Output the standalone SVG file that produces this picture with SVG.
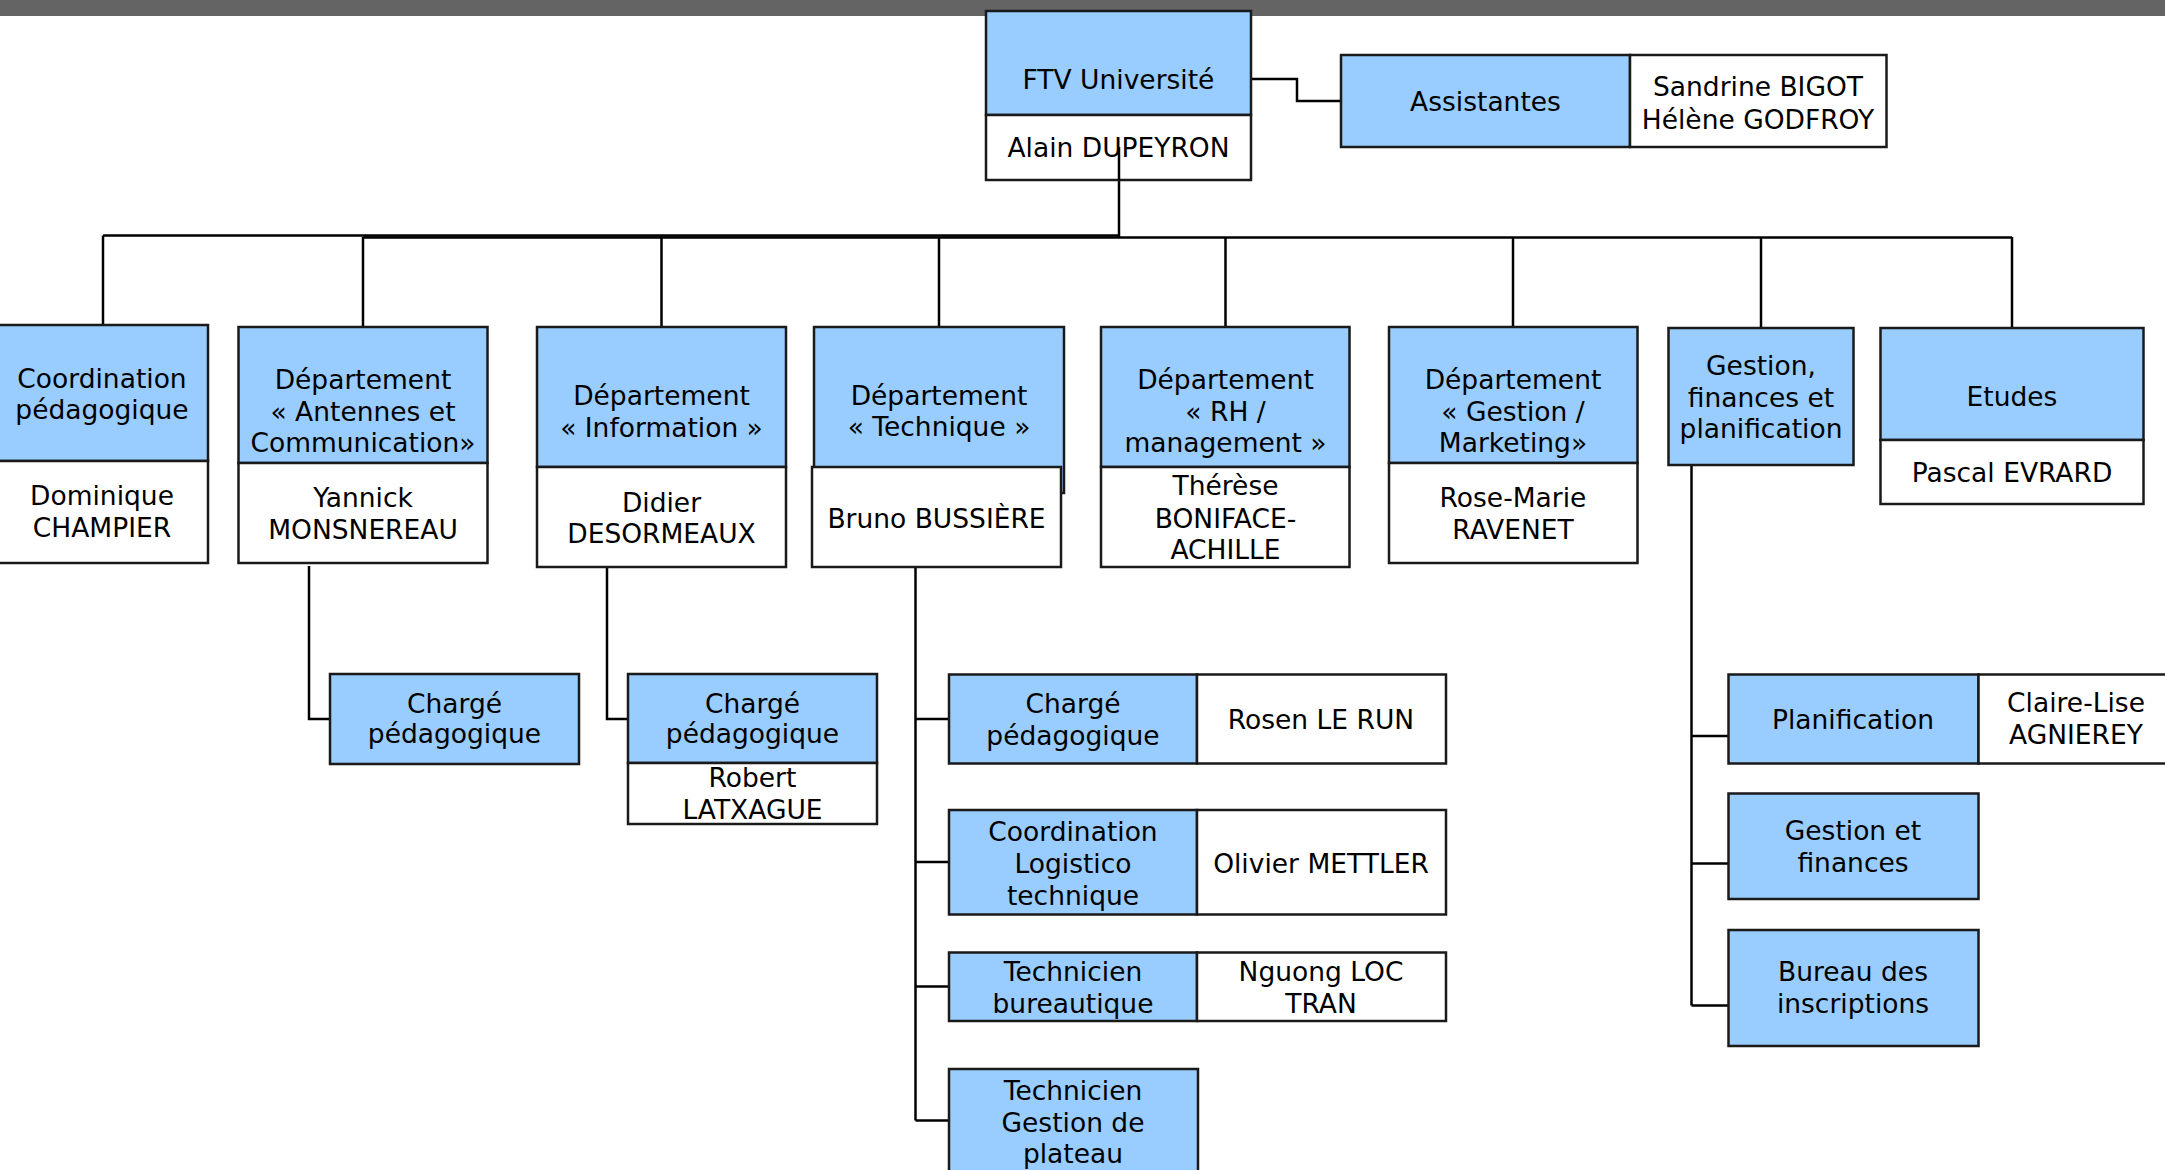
<svg xmlns="http://www.w3.org/2000/svg" width="2165" height="1170" viewBox="0 0 2165 1170">
<style>
.b{fill:#99CCFF;stroke:#1a1a1a;stroke-width:2.5}
.w{fill:#ffffff;stroke:#1a1a1a;stroke-width:2.5}
.c{fill:none;stroke:#000;stroke-width:2.5}
text{font-family:"DejaVu Sans",Verdana,sans-serif;font-size:26.5px;fill:#000;text-anchor:middle}
</style>
<rect x="0" y="0" width="2165" height="1170" fill="#ffffff"/>
<rect x="0" y="0" width="2165" height="16" fill="#646464"/>
<g id="connectors">
<path class="c" d="M1251 79 H1297 V101 H1341"/>
<path class="c" d="M1119 147 V237"/>
<path class="c" d="M103 235.5 H1119"/>
<path class="c" d="M363 237.5 H2012"/>
<path class="c" d="M103 235.5 V325"/>
<path class="c" d="M363 237 V327"/>
<path class="c" d="M661.5 237 V327"/>
<path class="c" d="M939 237 V327"/>
<path class="c" d="M1225.5 237 V327"/>
<path class="c" d="M1513 237 V327"/>
<path class="c" d="M1761 237 V328"/>
<path class="c" d="M2012 237 V328"/>
<path class="c" d="M309 566 V719 H330"/>
<path class="c" d="M607 567 V719 H628"/>
<path class="c" d="M915.5 567 V1120.5"/>
<path class="c" d="M915.5 719 H949"/>
<path class="c" d="M915.5 862 H949"/>
<path class="c" d="M915.5 986.5 H949"/>
<path class="c" d="M915.5 1120.5 H949"/>
<path class="c" d="M1691.5 465 V1005.5"/>
<path class="c" d="M1691.5 736 H1728.5"/>
<path class="c" d="M1691.5 863.5 H1728.5"/>
<path class="c" d="M1691.5 1005.5 H1728.5"/>
</g>
<g id="ftv">
<rect class="b" x="986" y="11" width="265" height="104"/>
<rect class="w" x="986" y="115" width="265" height="65"/>
<text x="1118.5" y="89">FTV Université</text>
<text x="1118.5" y="157">Alain DUPEYRON</text>
</g>
<path class="c" d="M1119 147 V180"/>
<g id="assistantes">
<rect class="b" x="1341" y="55" width="289" height="92"/>
<rect class="w" x="1630" y="55" width="256.5" height="92"/>
<text x="1485.5" y="111">Assistantes</text>
<text x="1758" y="96">Sandrine BIGOT</text>
<text x="1758" y="129">Hélène GODFROY</text>
</g>
<g id="coord-peda">
<rect class="b" x="-4" y="325" width="212" height="136"/>
<rect class="w" x="-4" y="461" width="212" height="102"/>
<text x="102" y="388">Coordination</text>
<text x="102" y="419">pédagogique</text>
<text x="102" y="505">Dominique</text>
<text x="102" y="537">CHAMPIER</text>
</g>
<g id="dept-antennes">
<rect class="b" x="238.5" y="327" width="249" height="136"/>
<rect class="w" x="238.5" y="463" width="249" height="100"/>
<text x="363" y="389">Département</text>
<text x="363" y="421">« Antennes et</text>
<text x="363" y="452">Communication»</text>
<text x="363" y="507">Yannick</text>
<text x="363" y="539">MONSNEREAU</text>
</g>
<g id="dept-information">
<rect class="b" x="537" y="327" width="249" height="140"/>
<rect class="w" x="537" y="467" width="249" height="100"/>
<text x="661.5" y="405">Département</text>
<text x="661.5" y="437">« Information »</text>
<text x="661.5" y="512">Didier</text>
<text x="661.5" y="543">DESORMEAUX</text>
</g>
<g id="dept-technique">
<rect class="b" x="814" y="327" width="250" height="166"/>
<rect class="w" x="812" y="467" width="249" height="100"/>
<text x="939" y="405">Département</text>
<text x="939" y="436">« Technique »</text>
<text x="936.5" y="528">Bruno BUSSIÈRE</text>
</g>
<g id="dept-rh">
<rect class="b" x="1101" y="327" width="248.5" height="140"/>
<rect class="w" x="1101" y="467" width="248.5" height="100"/>
<text x="1225.5" y="389">Département</text>
<text x="1225.5" y="421">« RH /</text>
<text x="1225.5" y="452">management »</text>
<text x="1225.5" y="495">Thérèse</text>
<text x="1225.5" y="528">BONIFACE-</text>
<text x="1225.5" y="559">ACHILLE</text>
</g>
<g id="dept-gestion-marketing">
<rect class="b" x="1389" y="327" width="248.5" height="136"/>
<rect class="w" x="1389" y="463" width="248.5" height="100"/>
<text x="1513" y="389">Département</text>
<text x="1513" y="421">« Gestion /</text>
<text x="1513" y="452">Marketing»</text>
<text x="1513" y="507">Rose-Marie</text>
<text x="1513" y="539">RAVENET</text>
</g>
<g id="gestion-finances-planif">
<rect class="b" x="1668.5" y="328" width="185" height="137"/>
<text x="1761" y="375">Gestion,</text>
<text x="1761" y="407">finances et</text>
<text x="1761" y="438">planification</text>
</g>
<g id="etudes">
<rect class="b" x="1880.5" y="328" width="263" height="112"/>
<rect class="w" x="1880.5" y="440" width="263" height="64"/>
<text x="2012" y="406">Etudes</text>
<text x="2012" y="482">Pascal EVRARD</text>
</g>
<g id="charge-antennes">
<rect class="b" x="330" y="674" width="249" height="90"/>
<text x="454.5" y="713">Chargé</text>
<text x="454.5" y="743">pédagogique</text>
</g>
<g id="charge-information">
<rect class="b" x="628" y="674" width="249" height="89"/>
<rect class="w" x="628" y="763" width="249" height="61"/>
<text x="752.5" y="713">Chargé</text>
<text x="752.5" y="743">pédagogique</text>
<text x="752.5" y="787">Robert</text>
<text x="752.5" y="819">LATXAGUE</text>
</g>
<g id="charge-technique">
<rect class="b" x="949" y="674.5" width="248" height="89"/>
<rect class="w" x="1197" y="674.5" width="249" height="89"/>
<text x="1073" y="713">Chargé</text>
<text x="1073" y="745">pédagogique</text>
<text x="1321" y="729">Rosen LE RUN</text>
</g>
<g id="coord-logistico">
<rect class="b" x="949" y="810" width="248" height="104.5"/>
<rect class="w" x="1197" y="810" width="249" height="104.5"/>
<text x="1073" y="841">Coordination</text>
<text x="1073" y="873">Logistico</text>
<text x="1073" y="905">technique</text>
<text x="1321" y="873">Olivier METTLER</text>
</g>
<g id="tech-bureautique">
<rect class="b" x="949" y="952.5" width="248" height="68.5"/>
<rect class="w" x="1197" y="952.5" width="249" height="68.5"/>
<text x="1073" y="981">Technicien</text>
<text x="1073" y="1013">bureautique</text>
<text x="1321" y="981">Nguong LOC</text>
<text x="1321" y="1013">TRAN</text>
</g>
<g id="tech-plateau">
<rect class="b" x="949" y="1069" width="249" height="120"/>
<text x="1073" y="1100">Technicien</text>
<text x="1073" y="1131.5">Gestion de</text>
<text x="1073" y="1163">plateau</text>
</g>
<g id="planification">
<rect class="b" x="1728.5" y="674.5" width="250" height="89"/>
<rect class="w" x="1978.5" y="674.5" width="195" height="89"/>
<text x="1853" y="728.5">Planification</text>
<text x="2076" y="712">Claire-Lise</text>
<text x="2076" y="744">AGNIEREY</text>
</g>
<g id="gestion-finances">
<rect class="b" x="1728.5" y="793.5" width="250" height="105.5"/>
<text x="1853" y="839.5">Gestion et</text>
<text x="1853" y="872">finances</text>
</g>
<g id="bureau-inscriptions">
<rect class="b" x="1728.5" y="930" width="250" height="116"/>
<text x="1853" y="981">Bureau des</text>
<text x="1853" y="1013">inscriptions</text>
</g>
</svg>
